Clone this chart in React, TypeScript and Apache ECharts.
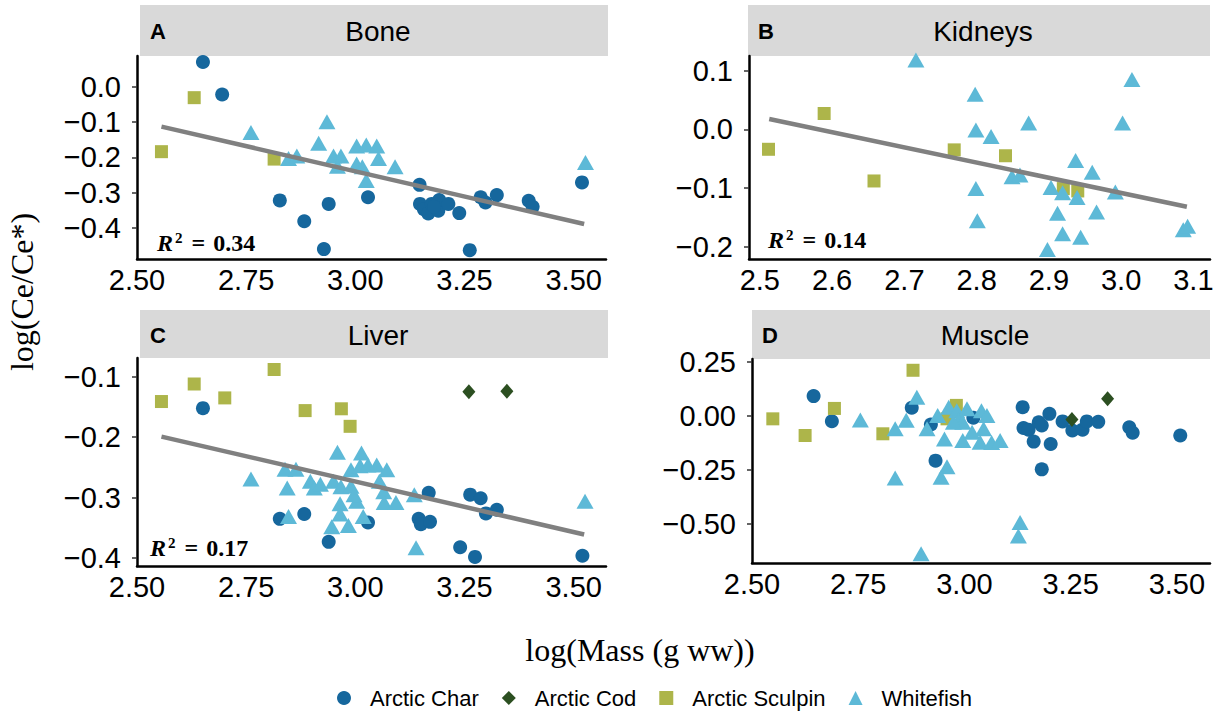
import React, { useEffect, useRef } from "react";
import * as echarts from "echarts";

// log(Mass) vs log(Ce/Ce*) by tissue and species
const boneChar = [
  [2.651, 0.07], [2.695, -0.022], [2.827, -0.322], [2.883, -0.381], [2.928, -0.46],
  [2.939, -0.332], [3.029, -0.313], [3.147, -0.278], [3.148, -0.332], [3.157, -0.347],
  [3.167, -0.359], [3.175, -0.332], [3.19, -0.351], [3.192, -0.321], [3.213, -0.332],
  [3.18, -0.34], [3.238, -0.358], [3.262, -0.463], [3.287, -0.313], [3.298, -0.328],
  [3.324, -0.307], [3.397, -0.323], [3.406, -0.34], [3.519, -0.271],
];
const boneSculpin = [[2.631, -0.031], [2.556, -0.184], [2.814, -0.205]];
const boneWhitefish = [
  [2.761, -0.13], [2.935, -0.099], [2.916, -0.16], [2.847, -0.203], [2.866, -0.196],
  [2.95, -0.196], [2.967, -0.196], [2.959, -0.225], [3.003, -0.168], [3.025, -0.165],
  [3.049, -0.168], [3.053, -0.203], [3.003, -0.219], [3.016, -0.227], [3.025, -0.266],
  [3.091, -0.227], [3.527, -0.215],
];

const kidneySculpin = [
  [2.512, -0.034], [2.589, 0.027], [2.658, -0.088], [2.769, -0.035], [2.84, -0.045],
  [2.92, -0.101], [2.94, -0.105],
];
const kidneyWhitefish = [
  [2.716, 0.118], [2.798, 0.06], [2.799, -0.001], [2.82, -0.012], [2.872, 0.011],
  [2.799, -0.101], [2.801, -0.156], [2.849, -0.081], [2.86, -0.078], [2.903, -0.099],
  [2.919, -0.108], [2.939, -0.116], [2.937, -0.053], [2.96, -0.073], [2.912, -0.143],
  [2.919, -0.178], [2.944, -0.184], [2.898, -0.205], [2.966, -0.141], [2.992, -0.107],
  [3.002, 0.011], [3.015, 0.085], [3.086, -0.171], [3.092, -0.165],
];

const liverChar = [
  [2.651, -0.152], [2.827, -0.335], [2.883, -0.327], [2.939, -0.373], [3.029, -0.341],
  [3.168, -0.292], [3.145, -0.335], [3.15, -0.344], [3.171, -0.34], [3.24, -0.382],
  [3.263, -0.295], [3.287, -0.301], [3.274, -0.398], [3.299, -0.326], [3.324, -0.32],
  [3.52, -0.396],
];
const liverCod = [[3.26, -0.125], [3.347, -0.124]];
const liverSculpin = [
  [2.556, -0.141], [2.631, -0.112], [2.701, -0.135], [2.814, -0.088], [2.885, -0.156],
  [2.968, -0.153], [2.988, -0.182],
];
const liverWhitefish = [
  [2.761, -0.269], [2.959, -0.225], [3.014, -0.226], [2.839, -0.253], [2.864, -0.253],
  [2.844, -0.284], [2.897, -0.273], [2.906, -0.284], [2.92, -0.278], [2.95, -0.273],
  [2.967, -0.282], [2.99, -0.281], [2.99, -0.254], [3.011, -0.247], [3.029, -0.246],
  [3.049, -0.246], [3.072, -0.254], [3.055, -0.273], [3.065, -0.29], [2.965, -0.31],
  [3.003, -0.306], [3.066, -0.308], [3.093, -0.308], [2.965, -0.327], [3.018, -0.331],
  [2.946, -0.348], [2.984, -0.346], [2.847, -0.331], [3.135, -0.295], [3.139, -0.383],
  [3.526, -0.306], [2.997, -0.295],
];

const muscleChar = [
  [2.645, 0.091], [2.688, -0.025], [2.876, 0.037], [2.921, -0.04], [2.932, -0.207],
  [3.021, -0.009], [3.137, 0.04], [3.139, -0.056], [3.151, -0.064], [3.163, -0.119],
  [3.175, -0.03], [3.182, -0.045], [3.182, -0.247], [3.2, 0.009], [3.203, -0.13],
  [3.231, -0.026], [3.254, -0.068], [3.278, -0.064], [3.288, -0.026], [3.315, -0.028],
  [3.388, -0.053], [3.396, -0.078], [3.508, -0.091],
];
const muscleCod = [[3.337, 0.079], [3.253, -0.017]];
const muscleSculpin = [
  [2.549, -0.014], [2.625, -0.091], [2.694, 0.034], [2.808, -0.083], [2.879, 0.21],
  [2.981, 0.048], [2.959, -0.014],
];
const muscleWhitefish = [
  [2.755, -0.019], [2.837, -0.06], [2.863, -0.02], [2.888, 0.086], [2.912, -0.06],
  [2.937, 0.001], [2.963, 0.04], [2.982, 0.023], [3.006, 0.032], [2.986, -0.02],
  [2.996, -0.03], [3.04, 0.023], [3.053, 0.001], [3.045, -0.06], [3.018, -0.076],
  [2.953, -0.107], [2.996, -0.114], [3.037, -0.122], [3.064, -0.123], [3.084, -0.114],
  [2.959, -0.235], [2.945, -0.284], [2.837, -0.287], [3.131, -0.492], [3.127, -0.554],
  [2.898, -0.636], [2.974, -0.03],
];

// fitted regression lines (endpoints) and their R² values
const boneFit = [[2.556, -0.113], [3.524, -0.389]];
const kidneyFit = [[2.513, 0.0175], [3.091, -0.132]];
const liverFit = [[2.556, -0.199], [3.524, -0.361]];
const fitR2 = ["0.34", "0.14", "0.17"];

const panelLetters = ["A", "B", "C", "D"];
const panelTitles = ["Bone", "Kidneys", "Liver", "Muscle"];
const species = ["Arctic Char", "Arctic Cod", "Arctic Sculpin", "Whitefish"];

const xTicksWide = [2.5, 2.75, 3.0, 3.25, 3.5];
const xTicksKidney = [2.5, 2.6, 2.7, 2.8, 2.9, 3.0, 3.1];
const yTicksBone = [0.0, -0.1, -0.2, -0.3, -0.4];
const yTicksKidney = [0.1, 0.0, -0.1, -0.2];
const yTicksLiver = [-0.1, -0.2, -0.3, -0.4];
const yTicksMuscle = [0.25, 0.0, -0.25, -0.5];

const COLORS: Record<string, string> = {
  "Arctic Char": "#16679d",
  "Arctic Cod": "#2c4f21",
  "Arctic Sculpin": "#adb54a",
  Whitefish: "#5db9d7",
};
const SYMBOLS: Record<string, string> = {
  "Arctic Char": "circle",
  "Arctic Cod": "diamond",
  "Arctic Sculpin": "rect",
  Whitefish: "triangle",
};
const SIZES: Record<string, number | number[]> = {
  "Arctic Char": 14,
  "Arctic Cod": [13, 15],
  "Arctic Sculpin": 13,
  Whitefish: [17, 15],
};

const SANS = "'Liberation Sans', Arial, Helvetica, sans-serif";
const SERIF = "'Liberation Serif', 'Times New Roman', serif";

// plot-area rectangles: [left, top, width, height]
const GRIDS = [
  [137, 56, 469, 203],
  [749, 56, 461, 203],
  [137, 358, 469, 208],
  [752, 359, 458, 204],
];
const X_RANGES = [
  [2.5, 3.574],
  [2.485, 3.123],
  [2.5, 3.574],
  [2.5, 3.578],
];
const Y_RANGES = [
  [-0.488, 0.087],
  [-0.221, 0.125],
  [-0.413, -0.069],
  [-0.679, 0.262],
];

const minus = (s: string) => s.replace("-", "\u2212");

export default function App() {
  const ref = useRef<HTMLDivElement>(null);

  useEffect(() => {
    if (!ref.current) return;
    const chart = echarts.init(ref.current, null, { renderer: "svg" });

    const xTicks = [xTicksWide, xTicksKidney, xTicksWide, xTicksWide];
    const xDigits = [2, 1, 2, 2];
    const yTicks = [yTicksBone, yTicksKidney, yTicksLiver, yTicksMuscle];
    const yDigits = [1, 1, 1, 2];

    const grid = GRIDS.map(([left, top, width, height]) => ({ left, top, width, height }));

    const xAxis = GRIDS.map((_, i) => ({
      type: "value",
      gridIndex: i,
      min: X_RANGES[i][0],
      max: X_RANGES[i][1],
      axisLine: { show: true, onZero: false, lineStyle: { color: "#000", width: 2.5 } },
      axisTick: { show: false },
      splitLine: { show: false },
      axisLabel: {
        customValues: xTicks[i],
        formatter: (v: number) => v.toFixed(xDigits[i]),
        color: "#000",
        fontSize: 29,
        fontFamily: SANS,
        margin: 6,
        hideOverlap: false,
      },
    }));

    const yAxis = GRIDS.map((_, i) => ({
      type: "value",
      gridIndex: i,
      min: Y_RANGES[i][0],
      max: Y_RANGES[i][1],
      axisLine: { show: true, onZero: false, lineStyle: { color: "#000", width: 2.5 } },
      axisTick: {
        show: true,
        customValues: yTicks[i],
        length: 5,
        lineStyle: { color: "#333", width: 1.5 },
      },
      splitLine: { show: false },
      axisLabel: {
        customValues: yTicks[i],
        formatter: (v: number) => minus(v.toFixed(yDigits[i])),
        color: "#000",
        fontSize: 29,
        fontFamily: SANS,
        margin: 16,
      },
    }));

    const panels = [
      { "Arctic Char": boneChar, "Arctic Sculpin": boneSculpin, Whitefish: boneWhitefish },
      { "Arctic Sculpin": kidneySculpin, Whitefish: kidneyWhitefish },
      {
        "Arctic Char": liverChar,
        "Arctic Cod": liverCod,
        "Arctic Sculpin": liverSculpin,
        Whitefish: liverWhitefish,
      },
      {
        "Arctic Char": muscleChar,
        "Arctic Cod": muscleCod,
        "Arctic Sculpin": muscleSculpin,
        Whitefish: muscleWhitefish,
      },
    ];

    const series: any[] = [];
    panels.forEach((p: Record<string, number[][]>, i) => {
      species.forEach((sp) => {
        if (!p[sp]) return;
        series.push({
          type: "scatter",
          name: sp,
          xAxisIndex: i,
          yAxisIndex: i,
          data: p[sp],
          symbol: SYMBOLS[sp],
          symbolSize: SIZES[sp],
          itemStyle: { color: COLORS[sp], opacity: 1 },
          z: 3,
        });
      });
    });

    const fits = [boneFit, kidneyFit, liverFit];
    fits.forEach((f, i) => {
      series.push({
        type: "line",
        name: "fit" + i,
        xAxisIndex: i,
        yAxisIndex: i,
        data: f,
        symbol: "none",
        lineStyle: { color: "#808080", width: 4.5 },
        z: 5,
        silent: true,
      });
    });

    // strip headers above each panel
    const headers = [
      [140, 5, 468, 51],
      [748, 5, 462, 51],
      [140, 310, 468, 48],
      [752, 310, 458, 49],
    ];
    const graphics: any[] = [];
    headers.forEach(([x, y, w, h], i) => {
      graphics.push({
        type: "rect",
        shape: { x, y, width: w, height: h },
        style: { fill: "#d9d9d9" },
        silent: true,
      });
      graphics.push({
        type: "text",
        x: x + 10,
        y: y + h / 2 + 1,
        style: {
          text: panelLetters[i],
          font: `bold 22px ${SANS}`,
          fill: "#000",
          verticalAlign: "middle",
        },
      });
      graphics.push({
        type: "text",
        x: x + w / 2 + 4,
        y: y + h / 2 + 1,
        style: {
          text: panelTitles[i],
          font: `28px ${SANS}`,
          fill: "#000",
          align: "center",
          verticalAlign: "middle",
        },
      });
    });

    // R² annotations
    const r2Pos = [
      [157, 243],
      [768, 240],
      [150, 548],
    ];
    r2Pos.forEach(([x, y], i) => {
      graphics.push({
        type: "text",
        x,
        y,
        style: {
          text: `{r|R}{s|2}{e|=}{n|${fitR2[i]}}`,
          verticalAlign: "middle",
          rich: {
            r: { font: `italic bold 24px ${SERIF}`, fill: "#000" },
            s: { font: `bold 15px ${SERIF}`, fill: "#000", verticalAlign: "top", padding: [0, 0, 10, 2] },
            e: { font: `bold 24px ${SERIF}`, fill: "#000", padding: [0, 8, 0, 9] },
            n: { font: `bold 24px ${SERIF}`, fill: "#000" },
          },
        },
      });
    });

    // shared axis titles
    graphics.push({
      type: "text",
      x: 22,
      y: 292,
      rotation: Math.PI / 2,
      style: {
        text: "log(Ce/Ce*)",
        font: `32px ${SERIF}`,
        fill: "#000",
        align: "center",
        verticalAlign: "middle",
      },
    });
    graphics.push({
      type: "text",
      x: 640,
      y: 650,
      style: {
        text: "log(Mass (g ww))",
        font: `32px ${SERIF}`,
        fill: "#000",
        align: "center",
        verticalAlign: "middle",
      },
    });

    chart.setOption({
      animation: false,
      backgroundColor: "#fff",
      grid,
      xAxis,
      yAxis,
      series,
      graphic: graphics,
      legend: {
        data: species.map((sp) => ({
          name: sp,
          icon: SYMBOLS[sp],
          itemStyle: { color: COLORS[sp] },
        })),
        left: 332,
        top: 682,
        itemWidth: 14,
        itemHeight: 14,
        itemGap: 23,
        textStyle: { fontSize: 22, fontFamily: SANS, color: "#000", padding: [0, 0, 0, 14] },
      },
    });

    return () => chart.dispose();
  }, []);

  return <div ref={ref} style={{ width: 1225, height: 711, position: "absolute", left: 0, top: 0 }} />;
}
